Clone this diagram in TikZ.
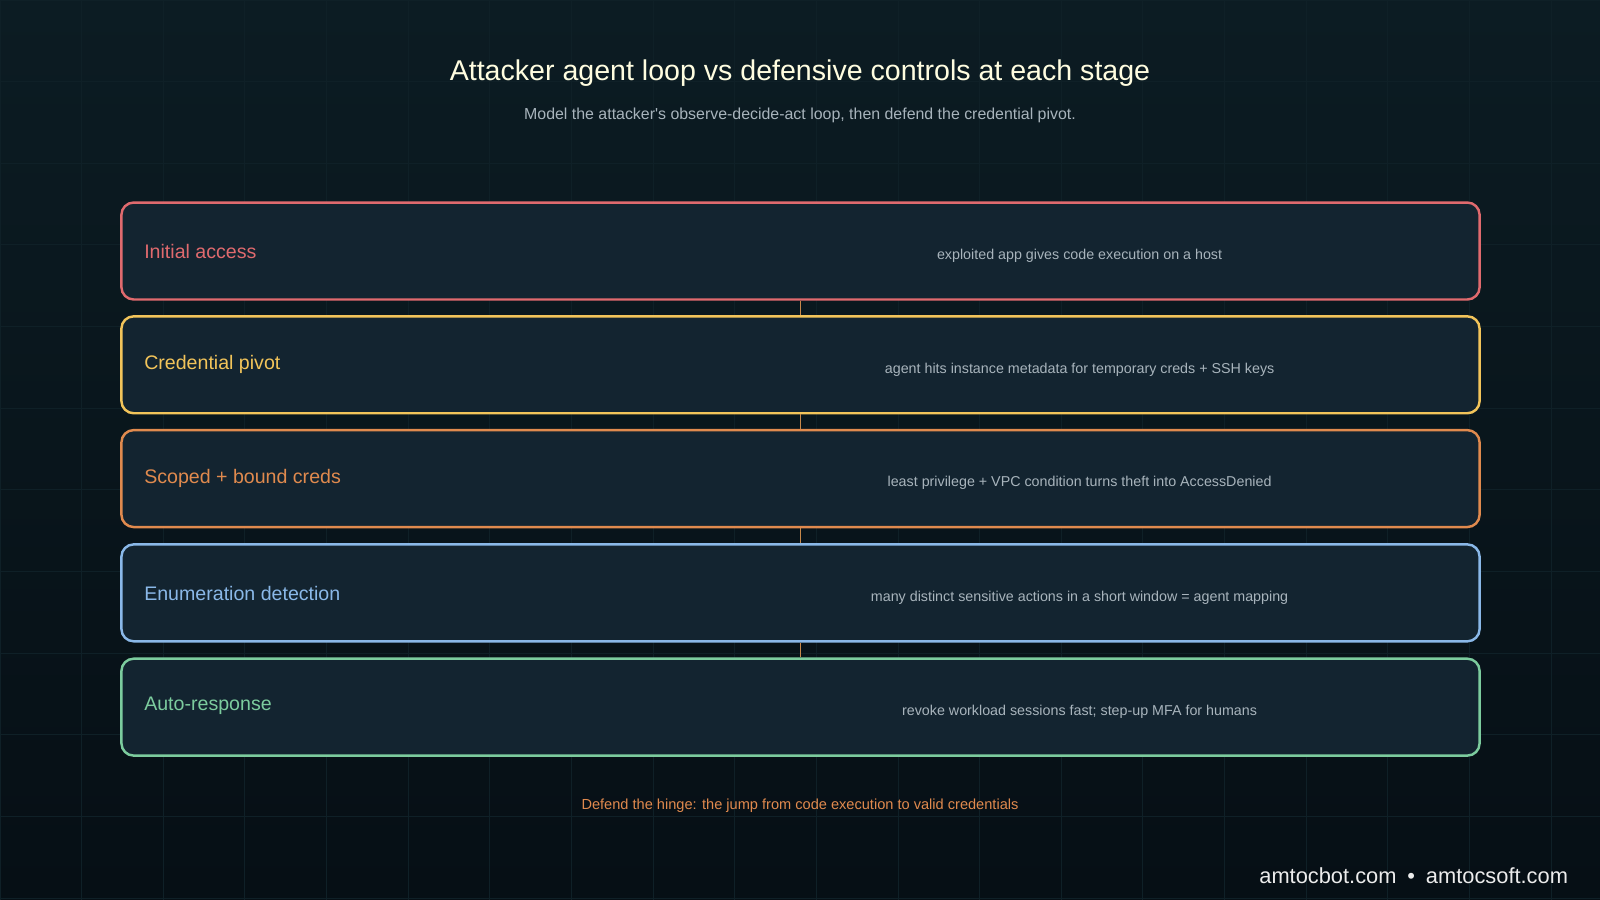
\documentclass[tikz,border=0pt]{standalone}
\usepackage{fontspec}
\setmainfont{Liberation Sans}
\newfontfamily\plainsans[Ligatures=NoCommon,Mapping=]{Liberation Sans}
\begin{document}
\begin{tikzpicture}[x=0.5pt,y=-0.5pt,
  stagebox/.style={draw=#1,line width=1.2pt,rounded corners=6pt,fill=boxfill,minimum width=665.5pt,minimum height=47.5pt,inner sep=0pt},
  stagelabel/.style={anchor=west,inner sep=0pt,font=\fontsize{9.6pt}{11pt}\selectfont,text=#1},
  stagedesc/.style={font=\fontsize{7pt}{8pt}\selectfont,text=desc},
  link/.style={draw=linkc,line width=0.7pt}]
\definecolor{bgtop}{HTML}{0C1C23}
\definecolor{bgbot}{HTML}{060F15}
\definecolor{boxfill}{HTML}{132430}
\definecolor{gridc}{HTML}{0F2027}
\definecolor{cred}{HTML}{E06A6E}
\definecolor{cyel}{HTML}{F2C45A}
\definecolor{cora}{HTML}{E08A4E}
\definecolor{cblu}{HTML}{8AB8E8}
\definecolor{cgrn}{HTML}{7CCC9E}
\definecolor{desc}{HTML}{A8B4BC}
\definecolor{linkc}{HTML}{C8884A}
\useasboundingbox (0,0) rectangle (1568,882);
\shade[top color=bgtop,bottom color=bgbot] (0,0) rectangle (1568,882);
\foreach \x in {0,80,...,1560} \draw[gridc,line width=0.4pt] (\x,0) -- (\x,882);
\foreach \y in {0,80,...,880} \draw[gridc,line width=0.4pt] (0,\y) -- (1568,\y);
\node[text=white!88!yellow,font=\fontsize{14pt}{16pt}\selectfont] (title) at (784,72) {Attacker agent loop vs defensive controls at each stage};
\node[text=desc,font=\fontsize{7.8pt}{9pt}\selectfont] (sub) at (784,113) {Model the attacker\textquotesingle s observe-decide-act loop, then defend the credential pivot.};
\node[stagebox=cred] (b1) at (784.5,246) {};
\node[stagebox=cyel] (b2) at (784.5,357.5) {};
\node[stagebox=cora] (b3) at (784.5,469) {};
\node[stagebox=cblu] (b4) at (784.5,581) {};
\node[stagebox=cgrn] (b5) at (784.5,693) {};
\draw[link] (b1.south) -- (b2.north);
\draw[link] (b2.south) -- (b3.north);
\draw[link] (b3.south) -- (b4.north);
\draw[link] (b4.south) -- (b5.north);
\node[stagelabel=cred] (l1) at (141,246) {Initial access};
\node[stagelabel=cyel] (l2) at (141,357) {Credential pivot};
\node[stagelabel=cora] (l3) at (141,469) {Scoped + bound creds};
\node[stagelabel=cblu] (l4) at (141,582) {Enumeration detection};
\node[stagelabel=cgrn] (l5) at (141,692) {Auto-response};
\node[stagedesc] (d1) at (1058,250.5) {exploited app gives code execution on a host};
\node[stagedesc] (d2) at (1058,362) {agent hits instance metadata for temporary creds + SSH keys};
\node[stagedesc] (d3) at (1058,473.5) {least privilege + VPC condition turns theft into AccessDenied};
\node[stagedesc] (d4) at (1058,585.5) {many distinct sensitive actions in a short window = agent mapping};
\node[stagedesc] (d5) at (1058,697.5) {revoke workload sessions fast; step-up MFA for humans};
\node[text=cora,font=\fontsize{7.15pt}{9pt}\selectfont] (foot) at (784,790) {Defend the hinge: the jump from code execution to valid credentials};
\node[anchor=east,inner sep=0pt,text=white!85!gray,font=\fontsize{10.7pt}{12pt}\selectfont] (brand) at (1537,858) {amtocbot.com\enspace•\enspace amtocsoft.com};
\end{tikzpicture}
\end{document}
